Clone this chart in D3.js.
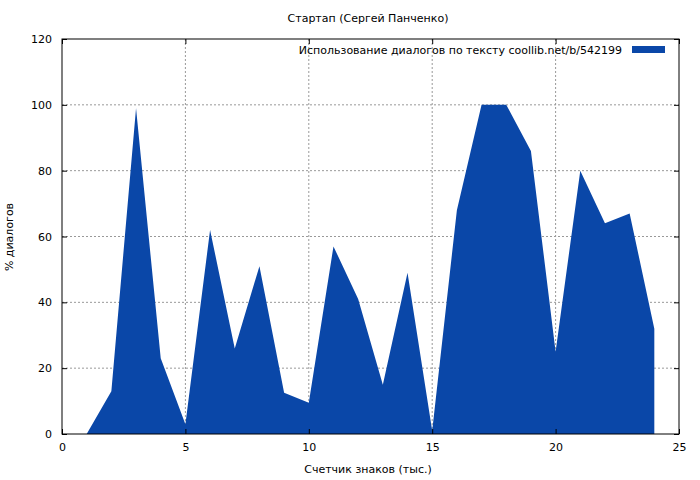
<!DOCTYPE html>
<html>
<head>
<meta charset="utf-8">
<script src="https://cdn.jsdelivr.net/npm/d3@7"></script>
<style>
  body { margin: 0; background: #fff; }
  text { font-family: "DejaVu Sans", sans-serif; font-size: 11px; fill: #000; }
</style>
</head>
<body>
<svg id="chart" width="700" height="480"></svg>
<script>
// data
const xs = [1, 2, 3, 4, 5, 6, 7, 8, 9, 10, 11, 12, 13, 14, 15, 16, 17, 18, 19, 20, 21, 22, 23, 24];
const values = [0, 13, 99, 23, 3, 62, 26, 51, 12.5, 9.5, 57, 41, 15, 49, 1, 68, 100, 100, 86, 25, 80, 64, 67, 32];
const xTicks = [0, 5, 10, 15, 20, 25];
const yTicks = [0, 20, 40, 60, 80, 100, 120];

const svg = d3.select("#chart");
const plotL = 62, plotR = 679, plotT = 39, plotB = 434;
const x = d3.scaleLinear().domain([0, 25]).range([plotL, plotR]);
const y = d3.scaleLinear().domain([0, 120]).range([plotB, plotT]);
const color = "#0a47a8";

// grid
svg.append("g").selectAll("line").data(xTicks.slice(1, -1)).enter().append("line")
  .attr("x1", d => x(d)).attr("x2", d => x(d)).attr("y1", plotT).attr("y2", plotB)
  .attr("stroke", "#999").attr("stroke-dasharray", "2,2");
svg.append("g").selectAll("line").data(yTicks.slice(1, -1)).enter().append("line")
  .attr("x1", plotL).attr("x2", plotR).attr("y1", d => y(d)).attr("y2", d => y(d))
  .attr("stroke", "#999").attr("stroke-dasharray", "2,2");

// area
const pts = xs.map((d, i) => [d, values[i]]);
svg.append("path").datum(pts)
  .attr("fill", color)
  .attr("d", d3.area().x(d => x(d[0])).y0(y(0)).y1(d => y(d[1])));

// frame
svg.append("rect").attr("x", plotL).attr("y", plotT).attr("width", plotR - plotL).attr("height", plotB - plotT)
  .attr("fill", "none").attr("stroke", "#000");

// axes
svg.append("g").attr("transform", `translate(0,${plotB})`)
  .call(d3.axisBottom(x).tickValues(xTicks).tickSize(-5).tickPadding(9))
  .call(g => g.select(".domain").remove());
svg.append("g").attr("transform", `translate(0,${plotT})`)
  .call(d3.axisTop(x).tickValues(xTicks).tickSize(-5).tickFormat(""))
  .call(g => g.select(".domain").remove());
svg.append("g").attr("transform", `translate(${plotL},0)`)
  .call(d3.axisLeft(y).tickValues(yTicks).tickSize(-5).tickPadding(10))
  .call(g => g.select(".domain").remove());
svg.append("g").attr("transform", `translate(${plotR},0)`)
  .call(d3.axisRight(y).tickValues(yTicks).tickSize(-5).tickFormat(""))
  .call(g => g.select(".domain").remove());
svg.selectAll(".tick text").style("font-family", "DejaVu Sans, sans-serif").style("font-size", "11px");

// titles
svg.append("text").attr("x", 368).attr("y", 22).attr("text-anchor", "middle").text("Стартап (Сергей Панченко)");
svg.append("text").attr("x", 368).attr("y", 473).attr("text-anchor", "middle").text("Счетчик знаков (тыс.)");
svg.append("text").attr("transform", "translate(13,237) rotate(-90)").attr("text-anchor", "middle").text("% диалогов");

// legend
svg.append("text").attr("x", 622).attr("y", 54).attr("text-anchor", "end")
  .text("Использование диалогов по тексту  coollib.net/b/542199");
svg.append("rect").attr("x", 632).attr("y", 46).attr("width", 33).attr("height", 7).attr("fill", color);
</script>
</body>
</html>
